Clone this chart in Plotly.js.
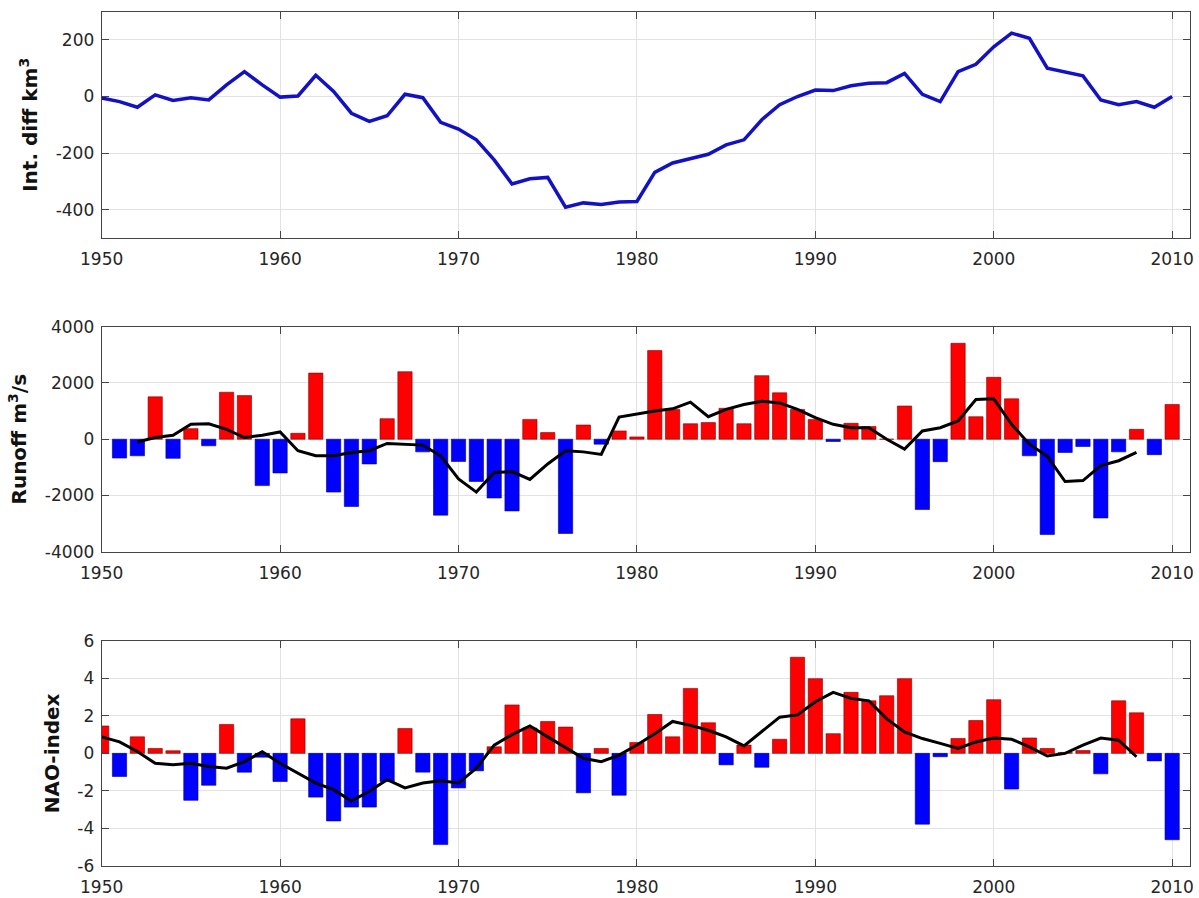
<!DOCTYPE html>
<html>
<head>
<meta charset="utf-8">
<script src="https://cdn.plot.ly/plotly-3.0.1.min.js"></script>
<style>
  html, body { margin: 0; padding: 0; background: #ffffff; }
  #chart { width: 1199px; height: 898px; }
</style>
</head>
<body>
<div id="chart"></div>
<script>
// ---------------- DATA ----------------
const yearsAll = [1950,1951,1952,1953,1954,1955,1956,1957,1958,1959,
                  1960,1961,1962,1963,1964,1965,1966,1967,1968,1969,
                  1970,1971,1972,1973,1974,1975,1976,1977,1978,1979,
                  1980,1981,1982,1983,1984,1985,1986,1987,1988,1989,
                  1990,1991,1992,1993,1994,1995,1996,1997,1998,1999,
                  2000,2001,2002,2003,2004,2005,2006,2007,2008,2009,
                  2010];

// Integrated difference, km^3 (1950-2010)
const intDiff = [-5,-18,-38,6,-14,-4,-12,41,88,41,
                 -2,2,75,18,-59,-88,-68,8,-4,-91,
                 -115,-153,-224,-309,-291,-286,-391,-376,-382,-373,
                 -371,-268,-235,-221,-204,-171,-153,-82,-29,0,
                 23,21,38,47,49,82,8,-18,88,114,
                 176,224,206,100,85,73,-12,-29,-18,-38,
                 0];

// Runoff anomaly, m^3/s (1951-2010)
const runoffYears = [1951,1952,1953,1954,1955,1956,1957,1958,1959,
                     1960,1961,1962,1963,1964,1965,1966,1967,1968,1969,
                     1970,1971,1972,1973,1974,1975,1976,1977,1978,1979,
                     1980,1981,1982,1983,1984,1985,1986,1987,1988,1989,
                     1990,1991,1992,1993,1994,1995,1996,1997,1998,1999,
                     2000,2001,2002,2003,2004,2005,2006,2007,2008,2009,
                     2010];
const runoff = [-670,-590,1505,-680,376,-235,1670,1550,-1650,
                -1200,210,2350,-1880,-2390,-880,730,2400,-450,-2700,
                -790,-1500,-2090,-2550,705,235,-3350,505,-176,294,
                82,3150,1060,550,590,1100,550,2260,1650,1060,
                705,-80,565,450,0,1180,-2500,-800,3410,800,
                2200,1435,-590,-3390,-470,-260,-2800,-450,350,-550,
                1235];

// Runoff running mean (1952-2008)
const runoffSmoothYears = [1952,1953,1954,1955,1956,1957,1958,1959,
                           1960,1961,1962,1963,1964,1965,1966,1967,1968,1969,
                           1970,1971,1972,1973,1974,1975,1976,1977,1978,1979,
                           1980,1981,1982,1983,1984,1985,1986,1987,1988,1989,
                           1990,1991,1992,1993,1994,1995,1996,1997,1998,1999,
                           2000,2001,2002,2003,2004,2005,2006,2007,2008];
const runoffSmooth = [-100,60,140,530,550,350,60,140,
                      260,-410,-590,-590,-470,-410,-150,-180,-210,-590,
                      -1410,-1880,-1180,-1150,-1430,-880,-410,-450,-540,790,
                      900,1000,1080,1317,800,1060,1235,1350,1290,1060,
                      765,530,410,410,0,-350,294,410,650,1410,
                      1435,530,-176,-610,-1505,-1470,-940,-765,-470];

// NAO index (1950-2010)
const nao = [1.46,-1.23,0.88,0.26,0.14,-2.5,-1.7,1.54,-1.0,-0.2,
             -1.5,1.84,-2.33,-3.6,-2.86,-2.86,-1.5,1.32,-1.0,-4.86,
             -1.84,-0.93,0.35,2.58,1.35,1.7,1.4,-2.1,0.26,-2.23,
             0.58,2.07,0.88,3.46,1.63,-0.61,0.44,-0.74,0.75,5.12,
             3.98,1.05,3.25,2.8,3.07,3.98,-3.77,-0.18,0.79,1.75,
             2.86,-1.9,0.82,0.26,0.05,0.15,-1.09,2.8,2.16,-0.4,
             -4.6];

// NAO running mean (1950-2008)
const naoSmoothYears = [1950,1951,1952,1953,1954,1955,1956,1957,1958,1959,
                        1960,1961,1962,1963,1964,1965,1966,1967,1968,1969,
                        1970,1971,1972,1973,1974,1975,1976,1977,1978,1979,
                        1980,1981,1982,1983,1984,1985,1986,1987,1988,1989,
                        1990,1991,1992,1993,1994,1995,1996,1997,1998,1999,
                        2000,2001,2002,2003,2004,2005,2006,2007,2008];
const naoSmooth = [0.88,0.61,0.1,-0.53,-0.61,-0.53,-0.7,-0.79,-0.44,0.09,
                   -0.53,-1.05,-1.58,-1.93,-2.54,-2.02,-1.4,-1.84,-1.58,-1.46,
                   -1.58,-0.79,0.44,1.0,1.46,0.88,0.3,-0.26,-0.44,-0.09,
                   0.45,1.05,1.7,1.49,1.23,0.88,0.4,1.14,1.93,2.05,
                   2.75,3.25,2.93,2.8,1.84,1.14,0.79,0.53,0.26,0.61,
                   0.82,0.75,0.35,-0.14,0,0.44,0.82,0.7,-0.18];

// Tick labels
const xTickVals = [1950,1960,1970,1980,1990,2000,2010];
const xTickText = ['1950','1960','1970','1980','1990','2000','2010'];
const y1TickVals = [-400,-200,0,200];
const y1TickText = ['-400','-200','0','200'];
const y2TickVals = [-4000,-2000,0,2000,4000];
const y2TickText = ['-4000','-2000','0','2000','4000'];
const y3TickVals = [-6,-4,-2,0,2,4,6];
const y3TickText = ['-6','-4','-2','0','2','4','6'];

// ---------------- STYLE ----------------
const RED = '#ff0000', BLUE = '#0000ff';
const RED_EDGE = '#7a0000', BLUE_EDGE = '#00007a';
const signColor = v => v >= 0 ? RED : BLUE;
const signEdge = v => v >= 0 ? RED_EDGE : BLUE_EDGE;

const tickFont = {family: 'DejaVu Sans, Arial, sans-serif', size: 17, color: '#262626'};
const titleFont = {family: 'DejaVu Sans, Arial, sans-serif', size: 20, color: '#111111', weight: 'bold'};

function xAxis(anchor) {
  return {
    domain: [0.0848, 0.9925], anchor: anchor, range: [1950, 2011],
    tickvals: xTickVals, ticktext: xTickText,
    ticks: 'inside', ticklen: 7, tickcolor: '#444444', tickwidth: 1,
    showline: true, linecolor: '#444444', linewidth: 1, mirror: 'allticks',
    showgrid: true, gridcolor: '#e2e2e2', gridwidth: 1, zeroline: false,
    tickfont: tickFont, ticklabelstandoff: 6
  };
}
function yAxis(anchor, domain, range, vals, text, title) {
  return {
    domain: domain, anchor: anchor, range: range,
    tickvals: vals, ticktext: text,
    ticks: 'inside', ticklen: 7, tickcolor: '#444444', tickwidth: 1,
    showline: true, linecolor: '#444444', linewidth: 1, mirror: 'allticks',
    showgrid: true, gridcolor: '#e2e2e2', gridwidth: 1, zeroline: false,
    tickfont: tickFont, ticklabelstandoff: 3,
    title: {text: title, font: titleFont, standoff: 12}
  };
}

const traces = [
  {
    type: 'scatter', mode: 'lines', x: yearsAll, y: intDiff,
    xaxis: 'x', yaxis: 'y',
    line: {color: '#1212c4', width: 3.5}, hoverinfo: 'x+y'
  },
  {
    type: 'bar', x: runoffYears, y: runoff, width: 0.8,
    xaxis: 'x2', yaxis: 'y2',
    marker: {color: runoff.map(signColor), line: {color: runoff.map(signEdge), width: 0.6}}
  },
  {
    type: 'scatter', mode: 'lines', x: runoffSmoothYears, y: runoffSmooth,
    xaxis: 'x2', yaxis: 'y2',
    line: {color: '#000000', width: 3}
  },
  {
    type: 'bar', x: yearsAll, y: nao, width: 0.8,
    xaxis: 'x3', yaxis: 'y3',
    marker: {color: nao.map(signColor), line: {color: nao.map(signEdge), width: 0.6}}
  },
  {
    type: 'scatter', mode: 'lines', x: naoSmoothYears, y: naoSmooth,
    xaxis: 'x3', yaxis: 'y3',
    line: {color: '#000000', width: 3}
  }
];

const layout = {
  width: 1199, height: 898,
  margin: {l: 0, r: 0, t: 0, b: 0},
  paper_bgcolor: '#ffffff', plot_bgcolor: '#ffffff',
  showlegend: false,
  xaxis: xAxis('y'),
  xaxis2: xAxis('y2'),
  xaxis3: xAxis('y3'),
  yaxis: yAxis('x', [0.7350, 0.9870], [-500, 300], y1TickVals, y1TickText, 'Int. diff km<sup>3</sup>'),
  yaxis2: yAxis('x2', [0.3856, 0.6362], [-4000, 4000], y2TickVals, y2TickText, 'Runoff m<sup>3</sup>/s'),
  yaxis3: yAxis('x3', [0.0356, 0.2865], [-6, 6], y3TickVals, y3TickText, 'NAO-index')
};

Plotly.newPlot('chart', traces, layout, {displayModeBar: false, staticPlot: true});
</script>
</body>
</html>
